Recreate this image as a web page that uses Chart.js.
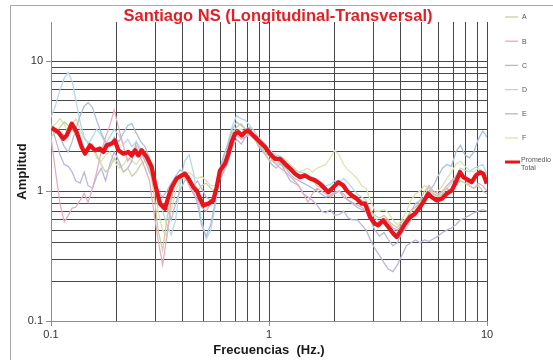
<!DOCTYPE html>
<html>
<head>
<meta charset="utf-8">
<script src="https://cdn.jsdelivr.net/npm/chart.js@4.4.1/dist/chart.umd.min.js"></script>
<style>
  html, body { margin: 0; padding: 0; background: #ffffff; }
  canvas { display: block; }
</style>
</head>
<body>
<canvas id="chart" width="553" height="360"></canvas>
<script>
// Frequencies (Hz) shared by the six component spectra
const freq = [0.100,0.105,0.110,0.115,0.120,0.125,0.130,0.136,0.142,0.148,
              0.155,0.162,0.170,0.178,0.186,0.195,0.205,0.215,0.225,0.235,
              0.246,0.258,0.270,0.283,0.296,0.310,0.325,0.340,0.356,0.373,
              0.390,0.410,0.430,0.450,0.470,0.490,0.515,0.540,0.565,0.590,
              0.620,0.650,0.680,0.710,0.745,0.780,0.815,0.855,0.895,0.940,
              0.985,1.03,1.08,1.13,1.19,1.25,1.31,1.37,1.44,1.51,
              1.58,1.66,1.74,1.82,1.91,2.00,2.10,2.20,2.31,2.42,
              2.54,2.66,2.79,2.92,3.06,3.21,3.37,3.53,3.70,3.88,
              4.07,4.27,4.48,4.70,4.93,5.17,5.42,5.68,5.96,6.25,
              6.55,6.87,7.20,7.55,7.92,8.30,8.70,9.12,9.56,10.0];

const serieA = [2.6,2.8,3.1,3.4,3.2,3.0,2.7,2.4,2.0,2.2,
                2.3,1.9,1.6,1.4,1.5,1.8,1.6,1.4,1.5,1.3,
                1.4,1.6,1.7,1.5,1.0,0.5,0.35,0.6,1.0,1.2,
                1.3,1.25,1.15,1.05,1.0,1.1,1.15,1.05,1.0,1.3,
                1.6,2.1,2.8,3.1,3.3,3.0,2.8,2.5,2.3,2.1,
                1.8,1.7,1.6,1.7,1.5,1.45,1.35,1.3,1.35,1.25,
                1.2,1.1,1.05,1.0,1.05,1.1,1.15,1.05,1.0,0.95,
                0.9,0.85,0.82,0.7,0.65,0.62,0.65,0.6,0.55,0.52,
                0.58,0.62,0.7,0.75,0.85,1.0,1.1,0.95,0.9,0.95,
                1.05,1.0,1.1,1.2,1.15,1.1,1.05,1.1,1.0,0.95];

const serieB = [2.6,1.4,0.8,0.58,0.65,0.74,0.75,0.85,0.96,0.82,
                1.05,1.4,2.0,2.6,3.2,4.2,3.0,2.2,1.7,1.9,
                2.2,1.8,1.5,1.2,0.7,0.42,0.27,0.45,0.85,1.2,
                1.3,1.35,1.1,0.95,0.85,0.75,0.7,0.8,0.9,1.2,
                1.5,1.8,2.4,2.7,2.5,2.6,2.7,2.5,2.3,2.2,
                2.0,1.75,1.6,1.5,1.4,1.3,1.2,1.1,0.95,0.82,
                0.95,1.05,1.0,0.95,0.9,0.95,1.0,0.95,0.85,0.82,
                0.78,0.75,0.7,0.6,0.55,0.58,0.62,0.58,0.52,0.5,
                0.55,0.62,0.7,0.75,0.8,0.9,1.1,1.0,0.95,1.0,
                1.1,1.2,1.3,1.35,1.25,1.1,1.05,1.15,1.1,1.0];

const serieC = [3.2,3.0,2.6,2.2,2.0,2.4,3.0,3.8,4.5,4.8,
                4.4,3.5,2.8,2.4,2.2,2.6,2.4,2.8,3.2,3.3,
                2.8,2.4,2.2,1.8,1.3,0.9,0.8,0.75,0.6,0.8,
                1.0,1.2,1.3,1.0,0.8,0.55,0.45,0.55,0.8,1.4,
                1.9,2.3,3.0,3.4,3.2,3.0,3.1,2.6,2.3,2.0,
                1.9,1.8,1.85,1.6,1.5,1.35,1.25,1.2,1.15,1.1,
                1.05,1.0,0.95,0.9,0.92,0.98,1.0,0.9,0.85,0.8,
                0.75,0.72,0.7,0.6,0.5,0.45,0.48,0.42,0.38,0.4,
                0.48,0.6,0.7,0.8,0.85,0.9,1.0,1.1,1.3,1.5,
                1.6,1.55,2.0,2.25,1.9,1.8,2.0,2.5,2.9,2.6];

const serieD = [3.7,4.6,6.0,7.4,8.2,7.0,5.0,3.4,2.6,2.3,
                2.6,3.0,2.7,2.3,2.6,3.0,2.7,2.3,2.5,2.2,
                2.4,2.1,1.9,1.6,1.2,0.9,0.7,0.55,0.46,0.6,
                1.1,1.7,1.9,1.4,0.9,0.6,0.43,0.5,0.75,1.3,
                1.8,2.4,3.2,3.8,3.6,3.5,3.2,2.9,2.6,2.4,
                2.2,2.0,1.9,1.85,1.7,1.55,1.45,1.4,1.38,1.3,
                1.28,1.22,1.15,1.1,1.12,1.2,1.18,1.25,1.15,1.05,
                0.95,0.9,0.85,0.72,0.62,0.58,0.6,0.55,0.5,0.48,
                0.47,0.52,0.6,0.7,0.8,0.9,1.0,0.95,0.92,0.98,
                1.05,1.15,1.3,1.5,1.45,1.4,1.5,1.55,1.6,1.35];

const serieE = [3.3,2.5,1.9,1.6,1.55,1.4,1.2,1.15,1.4,1.1,
                1.05,1.3,1.5,1.2,1.6,2.0,1.7,1.4,1.5,1.7,
                2.4,2.0,1.7,1.4,1.2,1.0,0.9,1.0,1.15,1.3,
                1.45,1.4,1.25,1.1,1.2,1.05,0.9,0.85,0.9,1.2,
                1.4,1.7,2.2,2.5,2.3,2.6,2.8,2.6,2.2,2.0,
                1.8,1.6,1.5,1.65,1.4,1.2,1.15,1.1,0.95,0.9,
                0.85,0.78,0.7,0.68,0.72,0.65,0.66,0.7,0.62,0.6,
                0.6,0.55,0.5,0.42,0.36,0.32,0.28,0.25,0.24,0.27,
                0.32,0.38,0.4,0.42,0.4,0.42,0.41,0.43,0.45,0.48,
                0.5,0.52,0.55,0.6,0.62,0.65,0.68,0.7,0.72,0.7];

const serieF = [3.0,3.3,3.6,3.3,2.8,3.3,3.6,3.0,2.5,2.4,
                2.2,1.8,1.7,1.9,2.0,1.7,1.5,1.6,1.8,1.7,
                1.6,1.8,1.9,1.7,1.4,0.7,0.5,0.45,0.7,1.0,
                1.2,1.3,1.4,1.3,1.25,1.3,1.2,1.1,1.1,1.3,
                1.5,1.7,2.3,2.9,3.0,2.8,2.7,2.6,2.5,2.3,
                2.1,1.9,1.8,1.85,1.75,1.6,1.5,1.4,1.45,1.5,
                1.4,1.5,1.55,1.6,1.8,2.05,1.9,1.6,1.45,1.35,
                1.25,1.1,1.05,0.85,0.7,0.7,0.72,0.68,0.6,0.55,
                0.6,0.7,0.85,0.95,1.0,1.1,1.05,0.95,1.0,1.1,
                1.25,1.4,1.6,1.7,1.55,1.45,1.4,1.5,1.4,1.3];

// Average spectrum ("Promedio Total")
const freqProm = [0.1007,0.108,0.1139,0.118,0.1245,0.1312,0.1383,0.1432,0.151,0.159,
                  0.168,0.174,0.18,0.19,0.1966,0.2036,0.2147,0.2263,0.2346,0.2429,
                  0.2513,0.2607,0.2748,0.2897,0.300,0.3162,0.3334,0.3452,0.358,0.3773,
                  0.3977,0.412,0.4266,0.4496,0.466,0.479,0.4996,0.527,0.555,0.5755,
                  0.596,0.628,0.651,0.674,0.698,0.723,0.750,0.776,0.804,0.847,
                  0.878,0.909,0.959,1.01,1.065,1.123,1.184,1.248,1.316,1.387,
                  1.463,1.542,1.626,1.714,1.807,1.871,1.972,2.08,2.19,2.27,
                  2.395,2.525,2.66,2.76,2.91,3.06,3.17,3.34,3.53,3.72,
                  3.85,3.99,4.21,4.43,4.67,4.93,5.10,5.38,5.57,5.88,
                  6.20,6.53,6.89,7.26,7.52,7.79,8.51,8.90,9.29,9.62,9.97];
const promedio = [3.07,2.84,2.53,2.68,3.30,2.84,2.18,1.94,2.25,2.06,
                  2.12,2.00,2.25,2.32,2.45,2.06,1.94,2.00,1.88,2.06,
                  1.88,2.06,1.83,1.53,1.14,0.80,0.732,0.90,1.07,1.25,
                  1.32,1.36,1.25,1.07,1.01,0.90,0.776,0.80,0.848,1.07,
                  1.44,1.62,1.94,2.38,2.76,2.84,2.68,2.84,2.93,2.68,
                  2.53,2.38,2.18,1.94,1.77,1.77,1.62,1.49,1.36,1.28,
                  1.32,1.25,1.21,1.14,1.04,0.98,1.07,1.17,1.106,1.01,
                  0.927,0.874,0.80,0.80,0.63,0.561,0.545,0.595,0.529,0.47,
                  0.443,0.484,0.561,0.63,0.67,0.753,0.823,0.955,0.90,0.848,
                  0.874,0.955,1.01,1.21,1.40,1.28,1.17,1.32,1.40,1.36,1.14];

// Axis grid positions and labelled ticks
const xGridTicks = [0.1,0.2,0.3,0.4,0.5,0.6,0.7,0.8,0.9,1,2,3,4,5,6,7,8,9,10];
const yGridTicks = [0.1,0.2,0.3,0.4,0.5,0.6,0.7,0.8,0.9,1,2,3,4,5,6,7,8,9,10];
const xTickLabels = [0.1, 1, 10];
const yTickLabels = [0.1, 1, 10];

const seriesNames  = ['A', 'B', 'C', 'D', 'E', 'F'];
const seriesValues = [serieA, serieB, serieC, serieD, serieE, serieF];
const seriesColors = ['#cdcda6', '#e6acbb', '#aabcda', '#afd9e9', '#bab4dc', '#d9e4ae'];
const promColor = '#e8141a';
const FONT = "'Liberation Sans', Arial, Helvetica, sans-serif";

const datasets = seriesNames.map((name, k) => ({
  label: name,
  data: freq.map((f, i) => ({ x: f, y: seriesValues[k][i] })),
  borderColor: seriesColors[k],
  borderWidth: 1.25,
  pointRadius: 0,
  tension: 0,
  order: 1
}));
datasets.push({
  label: 'Promedio Total',
  data: freqProm.map((f, i) => ({ x: f, y: promedio[i] })),
  borderColor: promColor,
  borderWidth: 4.3,
  pointRadius: 0,
  tension: 0,
  borderJoinStyle: 'round',
  order: 0
});

// Outer frame, heading and side legend
const decorations = {
  id: 'decorations',
  beforeDraw(chart) {
    const c = chart.ctx;
    c.save();
    c.strokeStyle = '#a8a8a8';
    c.lineWidth = 1;
    c.beginPath();
    c.moveTo(10.5, 360);
    c.lineTo(10.5, 5.5);
    c.lineTo(553, 5.5);
    c.stroke();
    c.restore();
  },
  afterDraw(chart) {
    const c = chart.ctx;
    c.save();
    c.fillStyle = '#e31e24';
    c.font = 'bold 16.5px ' + FONT;
    c.textAlign = 'center';
    c.textBaseline = 'middle';
    c.fillText('Santiago NS (Longitudinal-Transversal)', 278, 16);

    c.font = '7px ' + FONT;
    c.textAlign = 'left';
    c.fillStyle = '#555555';
    chart.data.datasets.forEach((ds, i) => {
      if (i < seriesNames.length) {
        const y = 17 + i * 24.2;
        c.strokeStyle = ds.borderColor;
        c.lineWidth = 1.3;
        c.beginPath();
        c.moveTo(505, y);
        c.lineTo(518, y);
        c.stroke();
        c.fillText(ds.label, 522, y + 0.5);
      } else {
        const y = 162;
        c.strokeStyle = ds.borderColor;
        c.lineWidth = 3;
        c.beginPath();
        c.moveTo(505, y);
        c.lineTo(520, y);
        c.stroke();
        const parts = ds.label.split(' ');
        c.fillText(parts[0], 521, 160.5);
        c.fillText(parts[1], 521, 168.5);
      }
    });
    c.restore();
  }
};

const gridColor = '#484848';
const tickFont = { family: FONT, size: 11 };

new Chart(document.getElementById('chart'), {
  type: 'line',
  data: { datasets },
  options: {
    responsive: false,
    animation: false,
    devicePixelRatio: 1,
    layout: { padding: { left: 10, top: 22, right: 66, bottom: 0 } },
    plugins: { legend: { display: false }, tooltip: { enabled: false } },
    scales: {
      x: {
        type: 'logarithmic',
        min: 0.1,
        max: 10,
        afterBuildTicks: s => { s.ticks = xGridTicks.map(v => ({ value: v })); },
        afterFit: s => { s.height = 39; },
        ticks: {
          autoSkip: false,
          maxRotation: 0,
          padding: 2,
          color: '#333333',
          font: tickFont,
          callback: v => (xTickLabels.includes(v) ? String(v) : '')
        },
        grid: {
          color: gridColor,
          lineWidth: 1,
          tickLength: 5,
          tickColor: ctx => (ctx.tick && xTickLabels.includes(ctx.tick.value) ? '#8c8c8c' : 'rgba(0,0,0,0)')
        },
        border: { color: '#8c8c8c', width: 1 },
        title: {
          display: true,
          text: 'Frecuencias  (Hz.)',
          color: '#1a1a1a',
          font: { family: FONT, size: 13, weight: 'bold' },
          padding: { top: 0, bottom: 2 }
        }
      },
      y: {
        type: 'logarithmic',
        min: 0.1,
        max: 20,
        afterBuildTicks: s => { s.ticks = yGridTicks.map(v => ({ value: v })); },
        afterFit: s => { s.width = 41; },
        ticks: {
          autoSkip: false,
          padding: 3,
          color: '#333333',
          font: tickFont,
          callback: v => (yTickLabels.includes(v) ? String(v) : '')
        },
        grid: {
          color: gridColor,
          lineWidth: 1,
          tickLength: 5,
          tickColor: ctx => (ctx.tick && yTickLabels.includes(ctx.tick.value) ? '#8c8c8c' : 'rgba(0,0,0,0)')
        },
        border: { color: '#8c8c8c', width: 1 },
        title: {
          display: true,
          text: 'Amplitud',
          color: '#1a1a1a',
          font: { family: FONT, size: 13, weight: 'bold' },
          padding: { top: 5, bottom: 0 }
        }
      }
    }
  },
  plugins: [decorations]
});
</script>
</body>
</html>
